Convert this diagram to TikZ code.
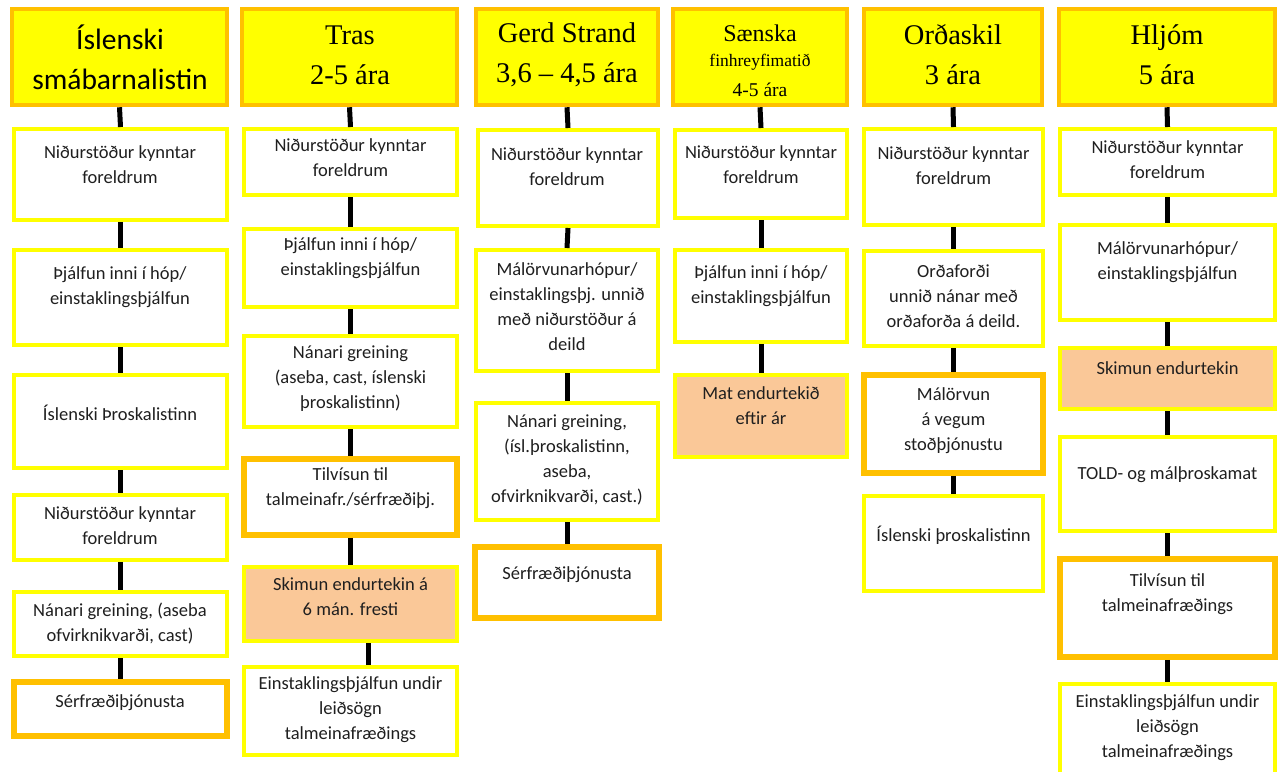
\documentclass[tikz,border=0pt]{standalone}
\usepackage{fontspec}
\setmainfont{Liberation Serif}
\newfontfamily\calfont{Carlito}
\usetikzlibrary{shadows}
\definecolor{yel}{RGB}{255,255,0}
\definecolor{org}{RGB}{255,192,0}
\definecolor{pch}{RGB}{250,200,152}
\tikzset{
 box/.style={draw, rectangle, inner sep=0pt, drop shadow={shadow xshift=1.5pt, shadow yshift=-2pt, opacity=0.25}},
 ybox/.style={box, draw=yel, line width=4pt, fill=white},
 obox/.style={box, draw=org, line width=5.5pt, fill=white},
 pbox/.style={box, draw=yel, line width=4pt, fill=pch},
 hbox/.style={box, draw=org, line width=4.5pt, fill=yel},
 txt/.style={align=center, inner sep=0pt, font=\calfont\fontsize{18.5}{25}\selectfont, text=black!88},
 htxt/.style={align=center, inner sep=0pt, font=\fontsize{28.5}{40}\selectfont},
 conn/.style={line width=5pt, black},
}
\newcommand\bx[6]{\node[#2, minimum width={#5-#3-4}, minimum height={#6-#4-4}] (#1) at ({(#3+#5)/2},{(#4+#6)/2}) {};}
\begin{document}
\begin{tikzpicture}[x=1pt,y=-1pt]
\useasboundingbox (0,0) rectangle (1281,771);
% column 1
\bx{h1}{hbox}{10}{7}{229}{107}
\bx{a1}{ybox}{12}{127}{229}{222}
\bx{a2}{ybox}{12}{248}{229}{347}
\bx{a3}{ybox}{12}{373}{229}{470}
\bx{a4}{ybox}{12}{493}{229}{562}
\bx{a5}{ybox}{12}{590}{229}{658}
\bx{a6}{obox}{12}{680}{229}{738}
% column 2
\bx{h2}{hbox}{240}{7}{459}{107}
\bx{b1}{ybox}{242}{127}{459}{197}
\bx{b2}{ybox}{242}{227}{459}{309}
\bx{b3}{ybox}{242}{334}{459}{429}
\bx{b4}{obox}{242}{457}{459}{537}
\bx{b5}{pbox}{242}{565}{459}{643}
\bx{b6}{ybox}{242}{665}{459}{757}
% column 3
\bx{h3}{hbox}{474}{7}{660}{107}
\bx{c1}{ybox}{476}{128}{660}{228}
\bx{c2}{ybox}{474}{248}{660}{373}
\bx{c3}{ybox}{474}{401}{660}{522}
\bx{c4}{obox}{473}{545}{661}{620}
% column 4
\bx{h4}{hbox}{671}{7}{849}{107}
\bx{d1}{ybox}{673}{128}{849}{220}
\bx{d2}{ybox}{673}{248}{849}{344}
\bx{d3}{pbox}{673}{373}{849}{459}
% column 5
\bx{h5}{hbox}{862}{7}{1044}{107}
\bx{e1}{ybox}{862}{127}{1045}{227}
\bx{e2}{ybox}{862}{249}{1045}{348}
\bx{e3}{obox}{862}{373}{1045}{475}
\bx{e4}{ybox}{862}{494}{1045}{593}
% column 6
\bx{h6}{hbox}{1057}{7}{1277}{107}
\bx{f1}{ybox}{1058}{127}{1277}{197}
\bx{f2}{ybox}{1058}{223}{1277}{322}
\bx{f3}{pbox}{1058}{346}{1277}{411}
\bx{f4}{ybox}{1058}{435}{1277}{533}
\bx{f5}{obox}{1058}{557}{1277}{659}
\bx{f6}{ybox}{1058}{682}{1277}{776}
% connectors
\foreach \u/\v in {h1/a1,a1/a2,a2/a3,a3/a4,a4/a5,a5/a6,
  h2/b1,b1/b2,b2/b3,b3/b4,b4/b5,
  h3/c1,c1/c2,c2/c3,c3/c4,
  h4/d1,d1/d2,d2/d3,
  h5/e1,e1/e2,e2/e3,e3/e4,
  h6/f1,f1/f2,f2/f3,f3/f4,f4/f5,f5/f6}
  \draw[conn] (\u.south) -- (\v.north);
\draw[conn] ([xshift=18pt]b5.south) -- ([xshift=18pt]b6.north);
% header texts
\node[htxt, font=\calfont\fontsize{29.5}{40}\selectfont] (th1) at (120,57) {Íslenski\\smábarnalistin};
\node[htxt] (th2) at (350,55) {Tras\\2-5 ára};
\node[htxt] (th3) at (567,55) {Gerd Strand\\3,6 – 4,5 ára};
\node[inner sep=0pt, font=\fontsize{24}{28}\selectfont] (th4a) at (760,33) {Sænska};
\node[inner sep=0pt, font=\fontsize{17.5}{18}\selectfont] (th4b) at (760,62) {finhreyfimatið};
\node[inner sep=0pt, font=\fontsize{19.5}{22}\selectfont] (th4c) at (760,90) {4-5 ára};
\node[htxt] (th5) at (953,55) {Orðaskil\\3 ára};
\node[htxt] (th6) at (1167,55) {Hljóm\\5 ára};
% column 1 texts
\node[txt] (ta1) at (120,164.5) {Niðurstöður kynntar\\foreldrum};
\node[txt] (ta2) at (120,287.5) {Þjálfun inni í hóp/\\einstaklingsþjálfun};
\node[txt] (ta3) at (120,413) {Íslenski Þroskalistinn};
\node[txt] (ta4) at (120,525.5) {Niðurstöður kynntar\\foreldrum};
\node[txt] (ta5) at (120,623.5) {Nánari greining, (aseba\\ofvirknikvarði, cast)};
\node[txt] (ta6) at (120,703) {Sérfræðiþjónusta};
% column 2 texts
\node[txt] (tb1) at (350.5,157.5) {Niðurstöður kynntar\\foreldrum};
\node[txt] (tb2) at (350.5,258) {Þjálfun inni í hóp/\\einstaklingsþjálfun};
\node[txt] (tb3) at (350.5,379) {Nánari greining\\(aseba, cast, íslenski\\þroskalistinn)};
\node[txt] (tb4) at (350.5,488.5) {Tilvísun til\\talmeinafr./sérfræðiþj.};
\node[txt] (tb5) at (350.5,596.5) {Skimun endurtekin á\\6 mán. fresti};
\node[txt] (tb6) at (350.5,709.5) {Einstaklingsþjálfun undir\\leiðsögn\\talmeinafræðings};
% column 3 texts
\node[txt] (tc1) at (567,166.5) {Niðurstöður kynntar\\foreldrum};
\node[txt] (tc2) at (567,306.5) {Málörvunarhópur/\\einstaklingsþj. unnið\\með niðurstöður á\\deild};
\node[txt] (tc3) at (567,459.5) {Nánari greining,\\(ísl.þroskalistinn,\\aseba,\\ofvirknikvarði, cast.)};
\node[txt] (tc4) at (567,575) {Sérfræðiþjónusta};
% column 4 texts
\node[txt] (td1) at (761,165) {Niðurstöður kynntar\\foreldrum};
\node[txt] (td2) at (761,286.5) {Þjálfun inni í hóp/\\einstaklingsþjálfun};
\node[txt] (td3) at (761,406) {Mat endurtekið\\eftir ár};
% column 5 texts
\node[txt] (te1) at (953.5,166) {Niðurstöður kynntar\\foreldrum};
\node[txt] (te2) at (953.5,296) {Orðaforði\\unnið nánar með\\orðaforða á deild.};
\node[txt] (te3) at (953.5,421) {Málörvun\\á vegum\\stoðþjónustu};
\node[txt] (te4) at (953.5,535) {Íslenski þroskalistinn};
% column 6 texts
\node[txt] (tf1) at (1167.5,159.5) {Niðurstöður kynntar\\foreldrum};
\node[txt] (tf2) at (1167.5,262.5) {Málörvunarhópur/\\einstaklingsþjálfun};
\node[txt] (tf3) at (1167.5,368) {Skimun endurtekin};
\node[txt] (tf4) at (1167.5,475) {TOLD- og málþroskamat};
\node[txt] (tf5) at (1167.5,594) {Tilvísun til\\talmeinafræðings};
\node[txt] (tf6) at (1167.5,727.5) {Einstaklingsþjálfun undir\\leiðsögn\\talmeinafræðings};
\end{tikzpicture}
\end{document}
